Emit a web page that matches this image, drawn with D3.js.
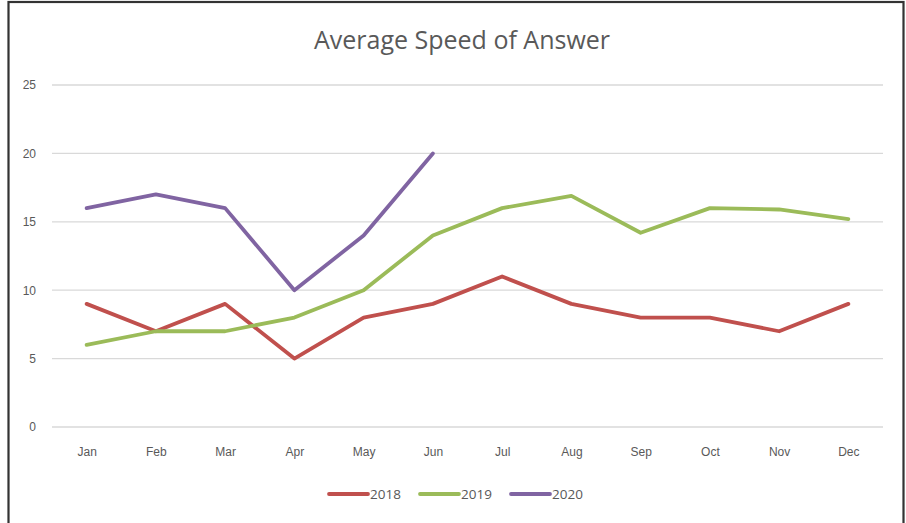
<!DOCTYPE html>
<html>
<head>
<meta charset="utf-8">
<script src="https://d3js.org/d3.v7.min.js"></script>
<style>
body { margin: 0; background: #fff; }
.chart { font-family: 'Open Sans', sans-serif; }
.axis text { fill: #595959; font-size: 12px; }
.grid line { stroke: #d9d9d9; stroke-width: 1.3px; }
</style>
</head>
<body>
<div class="chart"></div>
<script>
// chart values
const months = ["Jan","Feb","Mar","Apr","May","Jun","Jul","Aug","Sep","Oct","Nov","Dec"];
const years = ["2018", "2019", "2020"];
const colors = ["#c0504d", "#9bbb59", "#8064a2"];
const values2018 = [9, 7, 9, 5, 8, 9, 11, 9, 8, 8, 7, 9];
const values2019 = [6, 7, 7, 8, 10, 14, 16, 16.9, 14.2, 16, 15.9, 15.2];
const values2020 = [16, 17, 16, 10, 14, 20];
const yTicks = [0, 5, 10, 15, 20, 25];

const series = [values2018, values2019, values2020];

const width = 906, height = 523;
const plotLeft = 52, plotRight = 883, plotTop = 85, plotBottom = 427;

const svg = d3.select(".chart").append("svg")
    .attr("width", width)
    .attr("height", height);

// outer frame like the excel chart area
svg.append("rect")
    .attr("x", 8.5).attr("y", 2).attr("width", 895).attr("height", 530)
    .attr("fill", "#fff").attr("stroke", "#333").attr("stroke-width", 2.2);

svg.append("text")
    .attr("x", 462).attr("y", 49)
    .attr("text-anchor", "middle")
    .attr("fill", "#595959")
    .style("font-size", "25px")
    .text("Average Speed of Answer");

const x = d3.scalePoint().domain(months).range([plotLeft, plotRight]).padding(0.5);
const y = d3.scaleLinear().domain([0, 25]).range([plotBottom, plotTop]);

// horizontal gridlines
svg.append("g").attr("class", "grid")
    .selectAll("line").data(yTicks).enter().append("line")
    .attr("x1", plotLeft).attr("x2", plotRight)
    .attr("y1", d => y(d)).attr("y2", d => y(d));

// y axis labels
const yAxis = svg.append("g").attr("class", "axis")
    .attr("transform", "translate(" + (plotLeft - 10) + ",0)")
    .call(d3.axisLeft(y).tickValues(yTicks).tickSize(0).tickPadding(6));
yAxis.select(".domain").remove();

// x axis labels
const xAxis = svg.append("g").attr("class", "axis")
    .attr("transform", "translate(0," + (plotBottom + 17) + ")")
    .call(d3.axisBottom(x).tickSize(0).tickPadding(3));
xAxis.select(".domain").remove();

const line = d3.line()
    .x((d, i) => x(months[i]))
    .y(d => y(d));

svg.selectAll(".series").data(series).enter().append("path")
    .attr("class", "series")
    .attr("fill", "none")
    .attr("stroke", (d, i) => colors[i])
    .attr("stroke-width", 3.8)
    .attr("stroke-linejoin", "round")
    .attr("stroke-linecap", "round")
    .attr("d", line);

// legend
const legend = svg.selectAll(".legend").data(years).enter().append("g")
    .attr("class", "legend")
    .attr("transform", (d, i) => "translate(" + (329 + i * 91) + ",494)");
legend.append("line")
    .attr("x1", 0).attr("x2", 39)
    .attr("stroke", (d, i) => colors[i])
    .attr("stroke-width", 3.8)
    .attr("stroke-linecap", "round");
legend.append("text")
    .attr("x", 41).attr("y", 5)
    .attr("fill", "#595959")
    .style("font-size", "13.5px")
    .text(d => d);
</script>
</body>
</html>
